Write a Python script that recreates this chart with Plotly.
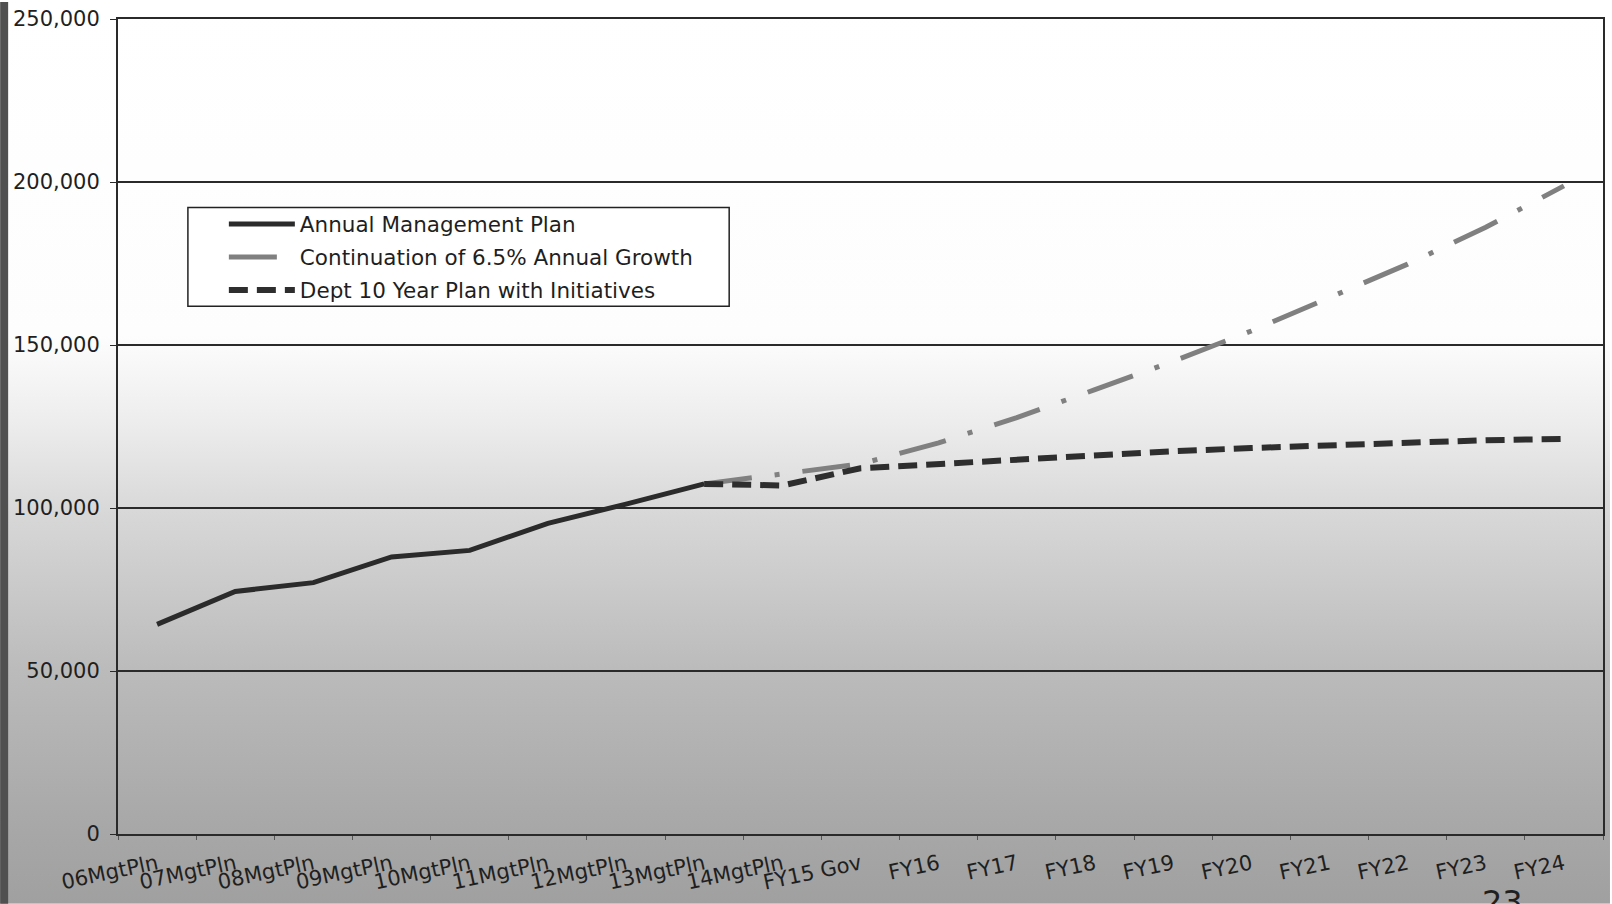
import base64
import plotly.graph_objects as go

# Category axis: management plans, then fiscal-year projections
categories = [
    "06MgtPln", "07MgtPln", "08MgtPln", "09MgtPln", "10MgtPln", "11MgtPln",
    "12MgtPln", "13MgtPln", "14MgtPln", "FY15 Gov", "FY16", "FY17", "FY18",
    "FY19", "FY20", "FY21", "FY22", "FY23", "FY24",
]

# Annual Management Plan (06MgtPln .. 13MgtPln)
annual_plan = [64300, 74400, 77100, 85000, 87000, 95300, 101200, 107400]

# Continuation of 6.5% Annual Growth (13MgtPln .. FY24)
growth_cont = [107400, 110600, 113500, 120000, 127700, 136300, 145000,
               154300, 164400, 174800, 186100, 198800]

# Dept 10 Year Plan with Initiatives (13MgtPln .. FY24)
dept_plan = [107400, 106900, 112200, 113600, 114900, 116200, 117400,
             118400, 119300, 120100, 120800, 121200]

y_ticks = [0, 50000, 100000, 150000, 200000, 250000]

W, H = 1612, 904
ML, MR, MT, MB = 118, 7, 17, 70
PW, PH = W - ML - MR, H - MT - MB


def px_x(px):
    return (px - ML) / PW


def px_y(py):
    return (H - MB - py) / PH


FONT = "DejaVu Sans"
INK = "#1f1f1f"

fig = go.Figure()
fig.add_trace(go.Scatter(
    x=categories[:len(annual_plan)], y=annual_plan, mode="lines",
    name="Annual Management Plan", legendgroup="a",
    line=dict(color="#2b2b2b", width=5),
))
fig.add_trace(go.Scatter(
    x=categories[7:7 + len(growth_cont)], y=growth_cont, mode="lines",
    name="Continuation of 6.5% Annual Growth", legendgroup="b",
    line=dict(color="#808080", width=5, dash="48px,23px,5px,23px"),
))
fig.add_trace(go.Scatter(
    x=categories[7:7 + len(dept_plan)], y=dept_plan, mode="lines",
    name="Dept 10 Year Plan with Initiatives", legendgroup="c",
    line=dict(color="#2e2e2e", width=6, dash="19px,9px"),
))

# Soft vertical shading behind the whole page
svg = (
    '<svg xmlns="http://www.w3.org/2000/svg" width="1612" height="904" '
    'preserveAspectRatio="none">'
    '<defs><linearGradient id="g" x1="0" y1="0" x2="0" y2="1">'
    '<stop offset="0" stop-color="#ffffff"/>'
    '<stop offset="0.37" stop-color="#fdfdfd"/>'
    '<stop offset="0.47" stop-color="#ececec"/>'
    '<stop offset="0.57" stop-color="#d7d7d7"/>'
    '<stop offset="0.74" stop-color="#bbbbbb"/>'
    '<stop offset="0.92" stop-color="#a7a7a7"/>'
    '<stop offset="1" stop-color="#a0a0a0"/>'
    '</linearGradient></defs>'
    '<rect x="0" y="0" width="1612" height="904" fill="url(#g)"/>'
    '</svg>'
)
bg_src = "data:image/svg+xml;base64," + base64.b64encode(svg.encode()).decode()

fig.add_layout_image(dict(
    source=bg_src, xref="paper", yref="paper",
    x=px_x(0), y=px_y(0), sizex=W / PW, sizey=H / PH,
    xanchor="left", yanchor="top", sizing="stretch", layer="below",
))

shapes = [
    # dark strip along the left page edge
    dict(type="rect", xref="paper", yref="paper",
         x0=px_x(0), x1=px_x(8), y0=px_y(H), y1=px_y(0),
         fillcolor="#505050", line=dict(width=0), layer="above"),
    # legend frame
    dict(type="rect", xref="paper", yref="paper",
         x0=px_x(188), x1=px_x(730), y0=px_y(305), y1=px_y(206),
         fillcolor="white", line=dict(color="#222222", width=1.5), layer="above"),
]

fig.update_layout(
    width=W, height=H,
    margin=dict(l=ML, r=MR, t=MT, b=MB, pad=0),
    paper_bgcolor="rgba(0,0,0,0)", plot_bgcolor="rgba(0,0,0,0)",
    font=dict(family=FONT, color=INK, size=20),
    showlegend=True,
    legend=dict(
        x=px_x(224), y=px_y(202), xanchor="left", yanchor="top",
        bgcolor="rgba(0,0,0,0)", borderwidth=0,
        font=dict(family=FONT, size=21.5, color=INK),
        tracegroupgap=2, itemwidth=66,
    ),
    shapes=shapes,
    annotations=[dict(
        text="23", xref="paper", yref="paper", x=px_x(1504), y=px_y(881),
        xanchor="center", yanchor="top", showarrow=False,
        font=dict(family=FONT, size=32, color=INK),
    )],
    xaxis=dict(
        type="category", categoryorder="array", categoryarray=categories,
        range=[-0.5, len(categories) - 0.5],
        showgrid=False, showline=True, mirror=True,
        linecolor="#2a2a2a", linewidth=2,
        ticks="outside", tickson="boundaries", ticklen=4, tickcolor="#555555",
        tickangle=-12, ticklabelstandoff=8,
        tickfont=dict(family=FONT, size=21, color=INK),
    ),
    yaxis=dict(
        range=[0, 250000], tickvals=y_ticks, tickformat=",",
        showgrid=True, gridcolor="#2a2a2a", gridwidth=1.5,
        showline=True, mirror=True, linecolor="#2a2a2a", linewidth=2,
        ticks="outside", ticklen=6, tickcolor="#2a2a2a",
        ticklabelstandoff=6, zeroline=False,
        tickfont=dict(family=FONT, size=21, color=INK),
    ),
)

fig.write_html("out.html")
